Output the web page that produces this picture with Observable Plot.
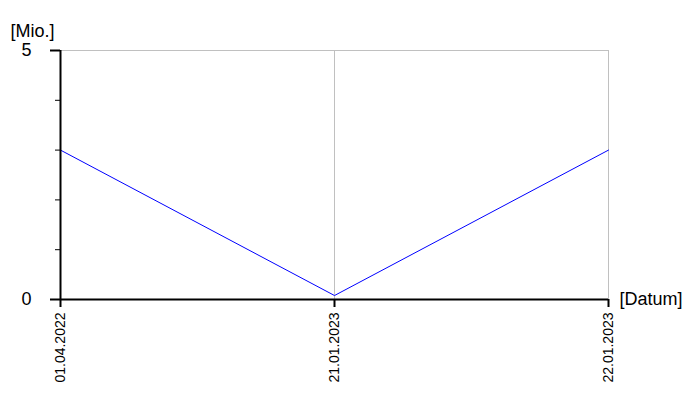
<!DOCTYPE html>
<html>
<head>
<meta charset="utf-8">
<script src="https://cdn.jsdelivr.net/npm/d3@7"></script>
<script src="https://cdn.jsdelivr.net/npm/@observablehq/plot@0.6"></script>
<style>
  html, body { margin: 0; padding: 0; background: #fff; }
  #chart { width: 700px; height: 400px; }
</style>
</head>
<body>
<div id="chart"></div>
<script>
const dates = ["01.04.2022", "21.01.2023", "22.01.2023"];
const values = [3.0, 0.08, 3.0];
const majorTicks = [0, 5];
const minorTicks = [1, 2, 3, 4];
const yLabel = "[Mio.]";
const xLabel = "[Datum]";

const data = dates.map((d, i) => ({date: d, value: values[i]}));
const grey = "#c0c0c0";

const chart = Plot.plot({
  width: 700,
  height: 400,
  marginLeft: 60,
  marginRight: 92,
  marginTop: 50,
  marginBottom: 101,
  style: {fontFamily: "'Liberation Sans', Arial, sans-serif", color: "#000", background: "#fff"},
  x: {type: "point", domain: dates, padding: 0},
  y: {domain: [0, 5]},
  marks: [
    Plot.ruleY([5], {stroke: grey, strokeWidth: 1}),
    Plot.ruleX(dates.slice(1), {x: d => d, stroke: grey, strokeWidth: 1}),
    Plot.line(data, {x: "date", y: "value", stroke: "#0000ff", strokeWidth: 1}),
    Plot.ruleX([dates[0]], {x: d => d, stroke: "#000", strokeWidth: 2}),
    Plot.ruleY([0], {stroke: "#000", strokeWidth: 2}),
    Plot.axisY({ticks: majorTicks, tickSize: 10, tickPadding: 19, fontSize: 18, strokeWidth: 2, label: null, tickFormat: d => String(d)}),
    Plot.axisY({ticks: minorTicks, tickSize: 5, strokeWidth: 1, label: null, tickFormat: () => ""}),
    Plot.axisX({ticks: dates, tickSize: 8, tickPadding: 5, tickRotate: -90, fontSize: 14, strokeWidth: 2, label: null}),
    Plot.text([yLabel], {frameAnchor: "top-left", text: d => d, dx: -50, dy: -19, textAnchor: "start", lineAnchor: "middle", fontSize: 18}),
    Plot.text([xLabel], {frameAnchor: "bottom-right", text: d => d, dx: 11, dy: 0, textAnchor: "start", lineAnchor: "middle", fontSize: 18})
  ]
});
document.getElementById("chart").appendChild(chart);
</script>
</body>
</html>
